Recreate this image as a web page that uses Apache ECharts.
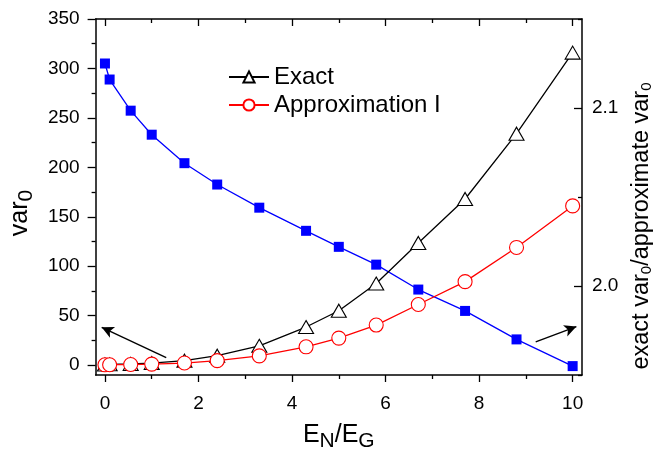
<!DOCTYPE html>
<html><head><meta charset="utf-8">
<script src="https://cdn.jsdelivr.net/npm/echarts@6/dist/echarts.min.js"></script>
<style>html,body{margin:0;padding:0;background:#fff}#c{width:669px;height:457px}</style>
</head><body><div id="c"></div>
<script>
// ---- data ----
const xValues   = [0, 0.1, 0.55, 1.0, 1.7, 2.4, 3.3, 4.3, 5.0, 5.8, 6.7, 7.7, 8.8, 10.0];
const exactVar  = [0.6, 0.8, 1.2, 2.1, 4.5, 9.5, 19.5, 38.5, 55, 82.5, 123.5, 168, 234, 316];
const approxVar = [0.3, 0.4, 0.6, 1.0, 2.1, 4.5, 9.3, 18.5, 27.3, 40.5, 61.3, 84.4, 119, 161];
const ratioVar  = [2.125, 2.116, 2.0985, 2.085, 2.069, 2.057, 2.044, 2.031, 2.022, 2.012, 1.998, 1.986, 1.970, 1.955];
const xMajorTicks = [0, 2, 4, 6, 8, 10];
const xMinorTicks = [1, 3, 5, 7, 9];
const yLeftMajorTicks = [0, 50, 100, 150, 200, 250, 300, 350];
const yLeftMinorTicks = [25, 75, 125, 175, 225, 275, 325];
const yRightMajorTicks = [2.0, 2.1];
const yRightMinorTicks = [1.95, 2.05, 2.15];
const leftArrow  = [[1.31, 7.5], [-0.07, 38.2]];
const rightArrow = [[9.21, 1.9686], [10.08, 1.9772]];

const FONT = '"Liberation Sans", Arial, sans-serif';
const zip = (xs, ys) => xs.map((x, i) => [x, ys[i]]);
const X_MIN = -0.2, X_MAX = 10.2, YL_MIN = -10, YL_MAX = 350, YR_MIN = 1.95, YR_MAX = 2.15;
const black = '#000';

function xAxisDef(pos, ticks, len, inside, withLine, withLabels) {
  return {
    type: 'value', position: pos, min: X_MIN, max: X_MAX,
    axisLine: { show: withLine, onZero: false, lineStyle: { color: black, width: 1.5 } },
    axisTick: { show: true, inside: inside, length: len, customValues: ticks, lineStyle: { color: black, width: 1.3 } },
    axisLabel: withLabels ? { show: true, customValues: ticks, fontSize: 19, color: black, margin: 19, fontFamily: FONT } : { show: false },
    splitLine: { show: false }
  };
}
function yAxisDef(pos, min, max, ticks, len, inside, withLine, withLabels, margin, fmt) {
  return {
    type: 'value', position: pos, min: min, max: max,
    axisLine: { show: withLine, onZero: false, lineStyle: { color: black, width: 1.5 } },
    axisTick: { show: true, inside: inside, length: len, customValues: ticks, lineStyle: { color: black, width: 1.3 } },
    axisLabel: withLabels ? { show: true, customValues: ticks, fontSize: 19, color: black, margin: margin, fontFamily: FONT, formatter: fmt } : { show: false },
    splitLine: { show: false }
  };
}

const xa0 = xAxisDef('bottom', xMajorTicks, 7, false, true, true);
xa0.name = '{m|E}{s|N}{m|/E}{s|G}';
xa0.nameLocation = 'middle';
xa0.nameGap = 44;
xa0.nameTextStyle = { rich: {
  m: { fontSize: 25, fontFamily: FONT, color: black },
  s: { fontSize: 21, fontFamily: FONT, color: black, padding: [12, 0, 0, 0] }
}};

const ya0 = yAxisDef('left', YL_MIN, YL_MAX, yLeftMajorTicks, 8, false, true, true, 16, v => String(v));
ya0.name = '{m|var}{s|0}';
ya0.nameLocation = 'middle';
ya0.nameGap = 50;
ya0.nameRotate = 90;
ya0.nameTextStyle = { padding: [0, 32, 0, 0], rich: {
  m: { fontSize: 25, fontFamily: FONT, color: black },
  s: { fontSize: 21, fontFamily: FONT, color: black, padding: [12, 0, 0, 0] }
}};

const ya2 = yAxisDef('right', YR_MIN, YR_MAX, yRightMajorTicks, 8, true, true, true, 10, v => v.toFixed(1));
ya2.name = '{m|exact var}{s|0}{m|/approximate var}{s|0}';
ya2.nameLocation = 'middle';
ya2.nameGap = 45;
ya2.nameRotate = 90;
ya2.nameTextStyle = { padding: [0, 58, 0, 0], rich: {
  m: { fontSize: 23.5, fontFamily: FONT, color: black },
  s: { fontSize: 15, fontFamily: FONT, color: black, padding: [11, 0, 0, 0] }
}};

const option = {
  animation: false,
  backgroundColor: '#fff',
  grid: { left: 89, right: 87, top: 19, bottom: 74, containLabel: false },
  legend: {
    data: ['Exact', 'Approximation I'],
    orient: 'vertical', left: 228, top: 65, padding: 0,
    itemWidth: 40, itemHeight: 14, itemGap: 4,
    textStyle: { fontSize: 24, fontFamily: FONT, color: black, padding: [0, 0, 0, 0] }
  },
  xAxis: [
    xa0,
    xAxisDef('bottom', xMinorTicks, 4, false, false, false),
    xAxisDef('top', xMajorTicks, 7, true, true, false),
    xAxisDef('top', xMinorTicks, 4, true, false, false)
  ],
  yAxis: [
    ya0,
    yAxisDef('left', YL_MIN, YL_MAX, yLeftMinorTicks, 4, false, false, false),
    ya2,
    yAxisDef('right', YR_MIN, YR_MAX, yRightMinorTicks, 4, true, false, false)
  ],
  series: [
    {
      name: 'Exact', type: 'line', xAxisIndex: 0, yAxisIndex: 0,
      data: zip(xValues, exactVar),
      symbol: 'triangle', symbolSize: [15, 13],
      itemStyle: { color: '#fff', borderColor: black, borderWidth: 1.1 },
      lineStyle: { color: black, width: 1.3 },
      z: 3,
      markLine: {
        silent: true, symbol: ['none', 'arrow'], symbolSize: [9, 12],
        label: { show: false },
        lineStyle: { color: black, width: 1.4, type: 'solid' },
        data: [[{ coord: leftArrow[0] }, { coord: leftArrow[1] }]]
      }
    },
    {
      name: 'Approximation I', type: 'line', xAxisIndex: 0, yAxisIndex: 0,
      data: zip(xValues, approxVar),
      symbol: 'circle', symbolSize: 14,
      itemStyle: { color: '#fff', borderColor: '#ff0000', borderWidth: 1.1 },
      lineStyle: { color: '#ff0000', width: 1.3 },
      z: 4
    },
    {
      name: 'Ratio', type: 'line', xAxisIndex: 0, yAxisIndex: 2,
      data: zip(xValues, ratioVar),
      symbol: 'rect', symbolSize: 10,
      itemStyle: { color: '#0000ff' },
      lineStyle: { color: '#0000ff', width: 1.3 },
      z: 2,
      markLine: {
        silent: true, symbol: ['none', 'arrow'], symbolSize: [9, 12],
        label: { show: false },
        lineStyle: { color: black, width: 1.4, type: 'solid' },
        data: [[{ coord: rightArrow[0] }, { coord: rightArrow[1] }]]
      }
    }
  ]
};
const chart = echarts.init(document.getElementById('c'));
chart.setOption(option);
</script>
</body></html>
